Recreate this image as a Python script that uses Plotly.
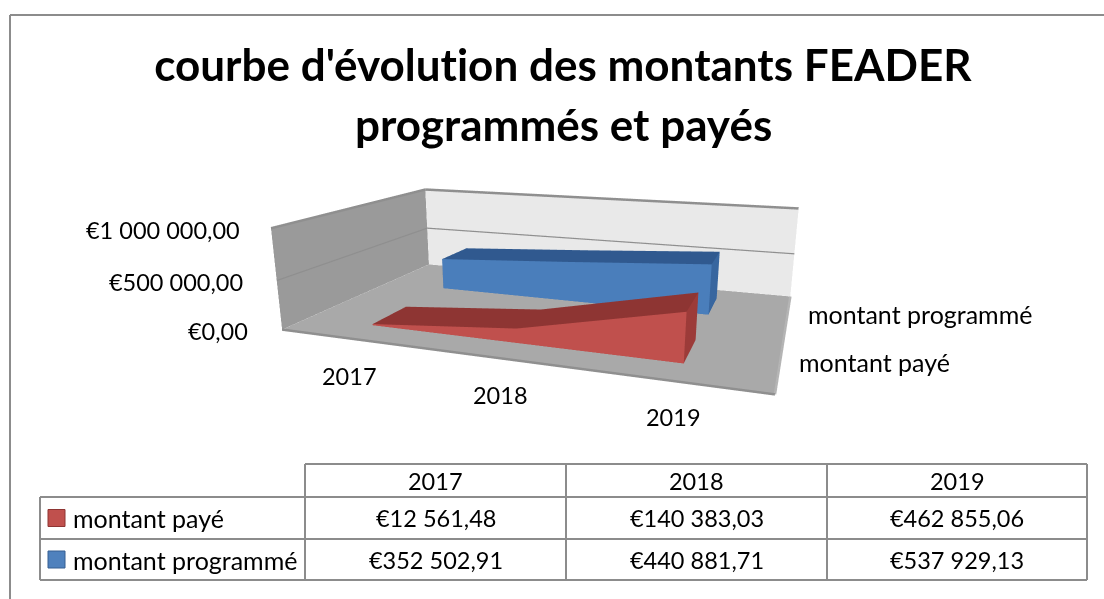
import plotly.graph_objects as go

YEARS = ["2017", "2018", "2019"]
PAYE = [12561.48, 140383.03, 462855.06]
PROGRAMME = [352502.91, 440881.71, 537929.13]
SERIES_NAMES = ["montant payé", "montant programmé"]
Z_TICKS = [0, 500000, 1000000]
TITLE_LINES = ["courbe d'évolution des montants FEADER", "programmés et payés"]

W, H = 1104, 599
FONT = "Lato"

# Camera and box proportions of the 3D scene
EYE = (0.526999, -1.486020, 0.378153)
VIEW_DIR = (-0.325006, 0.903756, -0.278562)
CEN = tuple(e + 1.4 * d for e, d in zip(EYE, VIEW_DIR))
ASP = (1, 0.63070, 0.21661)
XA, XB = 0.16393, 0.83279          # first and last category position along the x axis
DR0, DR1, DB0, DB1 = 0.14210, 0.36056, 0.65076, 0.86884  # depth of each ribbon

X_RANGE = (0, 1); Y_RANGE = (0, 1); Z_RANGE = (0, 1000000)
FLAT = dict(ambient=1, diffuse=0, specular=0, roughness=1, fresnel=0)


def ribbon(values, y0, y1, c_front, c_top, c_side):
    xs = [XA + i * (XB - XA) / (len(values) - 1) for i in range(len(values))]
    vx, vy, vz, I, J, K, F = [], [], [], [], [], [], []

    def quad(a, b, c, d, col):
        n = len(vx)
        for q in (a, b, c, d):
            vx.append(q[0]); vy.append(q[1]); vz.append(q[2])
        I.extend([n, n]); J.extend([n + 1, n + 2]); K.extend([n + 2, n + 3]); F.extend([col, col])

    for i in range(len(values) - 1):
        x0, x1 = xs[i], xs[i + 1]
        z0, z1 = values[i], values[i + 1]
        quad((x0, y0, 0), (x1, y0, 0), (x1, y0, z1), (x0, y0, z0), c_front)
        quad((x0, y0, z0), (x1, y0, z1), (x1, y1, z1), (x0, y1, z0), c_top)
    quad((xs[-1], y0, 0), (xs[-1], y1, 0), (xs[-1], y1, values[-1]), (xs[-1], y0, values[-1]), c_side)
    quad((xs[0], y0, 0), (xs[0], y1, 0), (xs[0], y1, values[0]), (xs[0], y0, values[0]), c_side)
    return go.Mesh3d(x=vx, y=vy, z=vz, i=I, j=J, k=K, facecolor=F, flatshading=True, hoverinfo="skip", lighting=FLAT)


def plane(xs, ys, zs, color):
    return go.Mesh3d(x=xs, y=ys, z=zs, i=[0, 0], j=[1, 2], k=[2, 3], color=color, flatshading=True,
                     hoverinfo="skip", lighting=FLAT)


def line(xs, ys, zs, color="#8f8f8f", width=5):
    return go.Scatter3d(x=xs, y=ys, z=zs, mode="lines", line=dict(color=color, width=width),
                        hoverinfo="skip", showlegend=False)


zt = Z_RANGE[1]
traces = [
    plane([0, 1, 1, 0], [0, 0, 1, 1], [0, 0, 0, 0], "#a9a9a9"),
    plane([0, 0, 0, 0], [0, 1, 1, 0], [0, 0, zt, zt], "#9a9a9a"),
    plane([0, 1, 1, 0], [1, 1, 1, 1], [0, 0, zt, zt], "#e9e9e9"),
    ribbon(PAYE, DR0, DR1, "#c0504d", "#8e3533", "#9c3b39"),
    ribbon(PROGRAMME, DB0, DB1, "#4a7ebb", "#30598f", "#38669f"),
]
for z in Z_TICKS[1:]:
    traces.append(line([0, 0, 1], [0, 1, 1], [z, z, z]))
traces.append(line([0, 1], [0, 0], [0, 0]))
traces.append(line([1, 1], [0, 1], [0, 0], color="#b5b5b5"))
fig = go.Figure(traces)
fig.update_layout(
    width=W, height=H, margin=dict(l=0, r=0, t=0, b=0), showlegend=False, paper_bgcolor="white",
    scene=dict(
        domain=dict(x=[0, 1], y=[0, 1]), aspectmode="manual",
        aspectratio=dict(x=ASP[0], y=ASP[1], z=ASP[2]),
        camera=dict(eye=dict(x=EYE[0], y=EYE[1], z=EYE[2]), center=dict(x=CEN[0], y=CEN[1], z=CEN[2]),
                    up=dict(x=0, y=0, z=1), projection=dict(type="perspective")),
        xaxis=dict(visible=False, range=X_RANGE), yaxis=dict(visible=False, range=Y_RANGE),
        zaxis=dict(visible=False, range=Z_RANGE), dragmode=False))


def fmt(v):
    return "€" + f"{v:,.2f}".replace(",", "\u00a0").replace(".", ",")


def px(x):
    return x / W


def py(y):
    return 1 - y / H


ann = []


def text(x, y, t, size=23.5, anchor="center", bold=False):
    ann.append(dict(x=px(x), y=py(y), xref="paper", yref="paper", text=f"<b>{t}</b>" if bold else t,
                    showarrow=False, xanchor=anchor, yanchor="middle",
                    font=dict(family=FONT, size=size, color="black")))


text(563, 64, TITLE_LINES[0], size=44, bold=True)
text(563, 124, TITLE_LINES[1], size=44, bold=True)
for z, x, y in zip(Z_TICKS, [250, 245, 242], [331, 282, 230]):
    text(x, y, fmt(z), anchor="right")
for t, (x, y) in zip(YEARS, [(349, 376), (500, 395), (673, 417)]):
    text(x, y, t)
text(806, 314, SERIES_NAMES[1], size=25, anchor="left")
text(797, 362, SERIES_NAMES[0], size=25, anchor="left")

shapes = []


def seg(x0, y0, x1, y1, c="#8c8c8c", w=2):
    shapes.append(dict(type="line", xref="paper", yref="paper", x0=px(x0), y0=py(y0), x1=px(x1), y1=py(y1),
                       line=dict(color=c, width=w)))


seg(10, 15, 1104, 15)
seg(10, 15, 10, 599)
cols = [305, 566, 827, 1087]
rows = [464, 497, 539, 580]
L = 40
seg(cols[0], rows[0], cols[3], rows[0])
for r in rows[1:]:
    seg(L, r, cols[3], r)
seg(L, rows[1], L, rows[3])
for c in cols:
    seg(c, rows[0], c, rows[3])
for j, t in enumerate(YEARS):
    text((cols[j] + cols[j + 1]) / 2, (rows[0] + rows[1]) / 2, t)
for i, (nm, vals, cf, cb) in enumerate([(SERIES_NAMES[0], PAYE, "#c0504d", "#8e3533"),
                                        (SERIES_NAMES[1], PROGRAMME, "#4f81bd", "#365f91")]):
    yc = (rows[i + 1] + rows[i + 2]) / 2
    text(71, yc, nm, size=25, anchor="left")
    shapes.append(dict(type="rect", xref="paper", yref="paper", x0=px(48), x1=px(65), y0=py(yc - 8.5), y1=py(yc + 8.5),
                       fillcolor=cf, line=dict(color=cb, width=1)))
    for j, v in enumerate(vals):
        text((cols[j] + cols[j + 1]) / 2, yc, fmt(v))
fig.update_layout(annotations=ann, shapes=shapes)
fig.write_html("out.html", config=dict(displayModeBar=False),
               post_script="document.body.style.margin='0';document.body.style.overflow='hidden';"
                           "var s=document.createElement('style');"
                           "s.textContent='text,tspan{font-variant-ligatures:none !important;"
                           "font-feature-settings:\"liga\" 0,\"clig\" 0 !important;letter-spacing:0.01px}';"
                           "document.head.appendChild(s);")
